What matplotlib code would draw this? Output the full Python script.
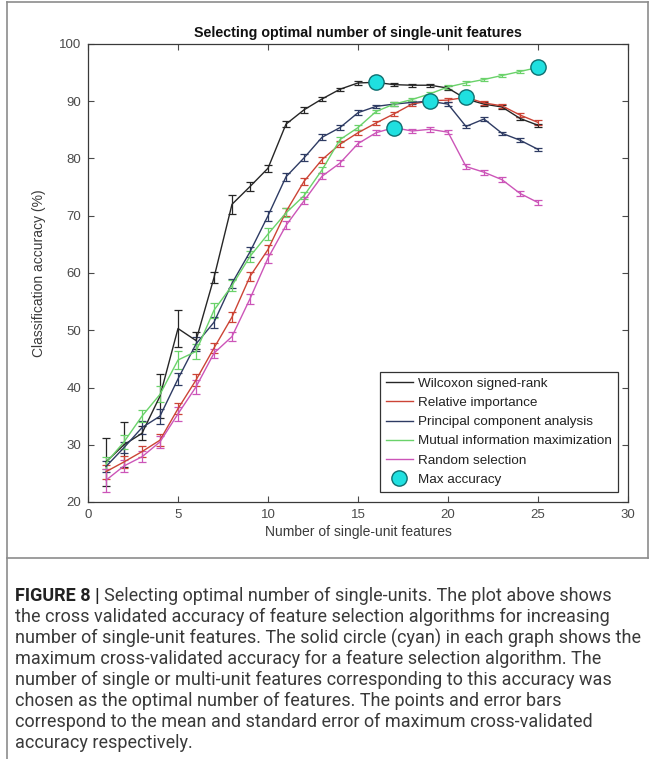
import numpy as np
import matplotlib
matplotlib.use("Agg")
import matplotlib.pyplot as plt
from matplotlib.lines import Line2D

# ---------------- data ----------------
n_features = list(range(1, 26))

series_names = ["Wilcoxon signed-rank", "Relative importance",
                "Principal component analysis", "Mutual information maximization",
                "Random selection"]

wilcoxon = [27.0, 30.0, 32.0, 38.5, 50.3, 48.2, 59.2, 72.0, 75.1, 78.3, 86.0, 88.5, 90.4,
            92.1, 93.2, 93.3, 92.9, 92.8, 92.8, 92.3, 90.4, 89.5, 89.0, 87.0, 85.8]
wilcoxon_err = [4.2, 3.9, 1.2, 3.8, 3.2, 1.5, 1.0, 1.7, 0.8, 0.6, 0.5, 0.5, 0.3,
                0.3, 0.3, 0.3, 0.3, 0.3, 0.3, 0.3, 0.3, 0.3, 0.3, 0.3, 0.3]

relative = [25.3, 27.0, 28.8, 30.8, 36.3, 41.3, 46.9, 52.3, 59.4, 64.1, 70.7, 76.0, 79.8,
            82.5, 84.5, 86.2, 87.8, 89.5, 90.1, 90.2, 90.7, 89.7, 89.2, 87.6, 86.3]
relative_err = [1.2, 1.0, 0.9, 1.0, 1.0, 1.0, 0.8, 0.9, 0.8, 0.8, 0.7, 0.6, 0.5,
                0.5, 0.4, 0.4, 0.4, 0.4, 0.4, 0.4, 0.4, 0.4, 0.4, 0.4, 0.4]

pca = [26.2, 29.5, 33.0, 35.0, 41.5, 47.6, 51.4, 58.2, 63.7, 70.0, 76.8, 80.1, 83.7,
       85.4, 88.0, 89.1, 89.5, 89.8, 90.0, 89.5, 85.6, 86.9, 84.4, 83.2, 81.6]
pca_err = [1.0, 1.0, 1.2, 1.3, 1.0, 1.2, 1.0, 0.8, 0.9, 0.9, 0.7, 0.6, 0.5,
           0.4, 0.4, 0.3, 0.3, 0.3, 0.3, 0.3, 0.3, 0.3, 0.3, 0.3, 0.3]

mim = [26.8, 30.5, 35.0, 38.8, 44.8, 46.3, 53.5, 57.8, 62.9, 66.8, 70.5, 73.5, 78.0,
       83.3, 85.4, 88.2, 89.5, 90.3, 91.3, 92.5, 93.2, 93.8, 94.5, 95.2, 95.9]
mim_err = [1.0, 1.2, 1.0, 1.4, 1.5, 1.3, 1.3, 1.0, 1.0, 1.0, 0.8, 0.6, 0.5,
           0.4, 0.4, 0.3, 0.3, 0.3, 0.3, 0.3, 0.3, 0.3, 0.3, 0.3, 0.3]

random_sel = [23.8, 26.3, 27.9, 30.5, 35.4, 40.1, 46.0, 48.9, 55.5, 62.6, 68.3, 72.6, 76.9,
              79.2, 82.6, 84.5, 85.4, 84.8, 85.1, 84.6, 78.6, 77.6, 76.3, 73.9, 72.3]
random_err = [2.0, 1.0, 1.0, 1.0, 1.2, 1.2, 0.8, 0.8, 0.9, 0.8, 0.7, 0.6, 0.5,
              0.5, 0.4, 0.4, 0.4, 0.4, 0.4, 0.4, 0.4, 0.4, 0.4, 0.4, 0.4]

x_ticks = [0, 5, 10, 15, 20, 25, 30]
y_ticks = [20, 30, 40, 50, 60, 70, 80, 90, 100]

title = "Selecting optimal number of single-unit features"
x_label = "Number of single-unit features"
y_label = "Classification accuracy (%)"
max_label = "Max accuracy"

caption_lines = [
    "Selecting optimal number of single-units. The plot above shows",
    "the cross validated accuracy of feature selection algorithms for increasing",
    "number of single-unit features. The solid circle (cyan) in each graph shows the",
    "maximum cross-validated accuracy for a feature selection algorithm. The",
    "number of single or multi-unit features corresponding to this accuracy was",
    "chosen as the optimal number of features. The points and error bars",
    "correspond to the mean and standard error of maximum cross-validated",
    "accuracy respectively.",
]
caption_head = "FIGURE 8 | "

# ---------------- styling ----------------
colors = ["#262626", "#cc4436", "#2e3b63", "#6ad26a", "#cc55b8"]
W, H = 655, 759
fig = plt.figure(figsize=(W / 100, H / 100), dpi=100)
plt.rcParams["font.family"] = ["Liberation Sans", "DejaVu Sans"]

def fx(px):
    return px / W

def fy(py):
    return 1 - py / H

ax_l, ax_r, ax_t, ax_b = 88, 628, 44, 502
ax = fig.add_axes([fx(ax_l), fy(ax_b), fx(ax_r - ax_l), (ax_b - ax_t) / H])

all_y = [wilcoxon, relative, pca, mim, random_sel]
all_e = [wilcoxon_err, relative_err, pca_err, mim_err, random_err]
handles = []
for name, ys, es, c in zip(series_names, all_y, all_e, colors):
    ax.errorbar(n_features, ys, yerr=es, color=c, lw=1.0, elinewidth=0.9,
                capsize=3.2, capthick=0.9, zorder=2)
    handles.append(Line2D([0], [0], color=c, lw=1.0, label=name))

# max accuracy markers
mx, my = [], []
for ys in all_y:
    i = int(np.argmax(ys))
    mx.append(n_features[i])
    my.append(ys[i])
sc = ax.plot(mx, my, "o", ms=11, mfc="#1fe0e0", mec="#0f6f70", mew=1.0,
             ls="none", zorder=5, label=max_label)[0]
handles.append(sc)

ax.set_xlim(0, 30)
ax.set_ylim(20, 100)
ax.set_xticks(x_ticks)
ax.set_yticks(y_ticks)
tick_col = "#4a4a4a"
ax.tick_params(direction="in", length=4, width=0.8, colors=tick_col,
               labelsize=9.5, top=True, right=True, pad=5)
for sp in ax.spines.values():
    sp.set_color("#3a3a3a")
    sp.set_linewidth(0.9)

ax.set_title(title, fontsize=10.3, fontweight="bold", color="#111111", pad=5)
ax.set_xlabel(x_label, fontsize=10, color="#3a3a3a", labelpad=3)
ax.set_ylabel(y_label, fontsize=10, color="#3a3a3a", labelpad=9)

leg = ax.legend(handles=handles, loc="lower right", fontsize=9.7,
                frameon=True, fancybox=False, framealpha=1,
                edgecolor="#333333", handlelength=2.0, handletextpad=0.4,
                labelspacing=0.5, borderaxespad=0.75, borderpad=0.45)
leg.get_frame().set_linewidth(0.9)
for t in leg.get_texts():
    t.set_color("#222222")

# ---------------- frame around the figure ----------------
frame_col = "#8c8c8c"
box_bottom = 558
fig.add_artist(Line2D([fx(7), fx(7)], [0, fy(2)], color=frame_col, lw=1.2))
fig.add_artist(Line2D([fx(7), fx(648)], [fy(2), fy(2)], color=frame_col, lw=1.2))
fig.add_artist(Line2D([fx(648), fx(648)], [fy(2), fy(box_bottom)], color=frame_col, lw=1.2))
fig.add_artist(Line2D([fx(7), fx(648)], [fy(box_bottom), fy(box_bottom)], color=frame_col, lw=1.2))

# ---------------- caption ----------------
cap_font = ["Roboto", "Liberation Sans", "DejaVu Sans"]
cap_size = 12.95
cap_col = "#3a3a3a"
y0, dy = 596, 21.0
renderer = fig.canvas.get_renderer()
head = fig.text(fx(15), fy(y0), caption_head, fontsize=cap_size, fontweight="bold",
                family=cap_font, color="#222222", va="center", ha="left")
bb = head.get_window_extent(renderer=renderer)
fig.text(bb.x1 / fig.dpi / fig.get_figwidth(), fy(y0), caption_lines[0], fontsize=cap_size,
         family=cap_font, fontweight="normal", color=cap_col, va="center", ha="left")
for k, line in enumerate(caption_lines[1:], start=1):
    fig.text(fx(15), fy(y0 + k * dy), line, fontsize=cap_size, family=cap_font,
             fontweight="normal", color=cap_col, va="center", ha="left")

fig.savefig("out.png", dpi=100)
